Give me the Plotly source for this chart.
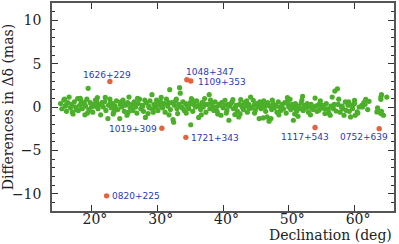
import plotly.graph_objects as go

# ---- data ----
green_dec = [15.3, 15.5, 15.8, 16.0, 16.2, 16.4, 16.6, 16.8, 17.0, 17.2, 17.4, 17.6, 17.9, 18.0, 18.2, 18.4,
             18.6, 18.8, 19.0, 19.1, 19.3, 19.5, 19.6, 19.8, 20.0, 20.2, 20.4, 20.6, 20.9, 21.0, 21.2, 21.4,
             21.6, 21.8, 22.0, 22.2, 22.5, 22.6, 22.8, 23.0, 23.2, 23.4, 23.6, 23.8, 24.0, 24.3, 24.4, 24.6,
             24.8, 25.0, 25.2, 25.4, 25.5, 25.7, 25.9, 26.1, 26.3, 26.5, 26.7, 26.9, 27.1, 27.3, 27.5, 27.7,
             27.9, 28.2, 28.3, 28.6, 28.7, 28.9, 29.2, 29.3, 29.5, 29.7, 29.9, 30.1, 30.3, 30.5, 30.8, 31.0,
             31.2, 31.4, 31.6, 31.9, 32.0, 32.2, 32.4, 32.5, 32.6, 32.8, 33.0, 33.1, 33.3, 33.4, 33.5, 33.7,
             33.9, 34.1, 34.3, 34.6, 34.8, 35.0, 35.1, 35.2, 35.4, 35.6, 35.8, 36.0, 36.3, 36.4, 36.6, 36.8,
             37.0, 37.2, 37.4, 37.6, 37.9, 38.0, 38.2, 38.4, 38.6, 38.8, 39.0, 39.2, 39.4, 39.7, 39.8, 40.0,
             40.3, 40.4, 40.6, 40.9, 41.0, 41.2, 41.5, 41.6, 41.8, 42.0, 42.2, 42.4, 42.5, 42.7, 42.9, 43.1,
             43.3, 43.5, 43.7, 43.9, 44.2, 44.3, 44.6, 44.7, 44.9, 45.1, 45.3, 45.5, 45.6, 45.8, 46.0, 46.1,
             46.3, 46.5, 46.7, 46.8, 47.0, 47.1, 47.3, 47.4, 47.6, 47.8, 48.0, 48.2, 48.4, 48.6, 48.8, 49.0,
             49.2, 49.4, 49.6, 49.8, 50.0, 50.2, 50.3, 50.5, 50.7, 50.8, 51.0, 51.2, 51.4, 51.5, 51.7, 51.9,
             52.1, 52.2, 52.4, 52.6, 52.8, 53.0, 53.2, 53.4, 53.7, 54.0, 54.1, 54.3, 54.6, 54.7, 55.0, 55.2,
             55.4, 55.5, 55.7, 56.0, 56.3, 56.4, 56.6, 56.8, 57.0, 57.2, 57.4, 57.5, 57.8, 58.0, 58.2, 58.4,
             58.6, 58.7, 59.0, 59.2, 59.4, 59.7, 59.8, 60.0, 60.0, 60.1, 60.4, 60.7, 61.1, 61.2, 61.6, 61.7,
             62.0, 62.2, 63.4, 63.6, 64.0, 64.0, 64.0, 64.1, 64.4, 64.9, 64.1, 63.5,
             16.1, 17.7, 18.9, 20.5, 21.5, 22.9, 23.5, 24.9, 26.0, 26.8, 27.8, 28.8, 30.0, 30.7, 31.7, 33.8,
             34.9, 36.1, 37.1, 38.5, 39.5, 40.8, 41.9, 43.0, 44.0, 45.4, 46.6, 47.7, 48.9, 49.9, 51.1, 52.3,
             53.5, 54.4, 55.8, 56.9, 58.1, 59.5,
             15.9, 17.1, 18.3, 19.4, 20.8, 22.1, 23.3, 24.5, 25.6, 27.0, 28.1, 29.4, 30.6, 31.8, 32.9, 34.4,
             35.5, 36.7, 38.1, 39.1, 40.5, 41.4, 42.6, 43.6, 44.8, 46.2, 47.5, 48.5, 49.7, 50.9, 52.0, 53.3,
             54.8, 56.1, 57.6, 59.1, 60.5, 61.4]
green_val = [0.4, -0.2, 0.8, 0.1, -0.5, 0.5, 1.15, -0.1, 0.3, -0.8, 0.6, 0.0, 0.97, -0.4, 0.2, 0.7,
             -0.2, 0.4, -0.9, 0.1, 0.9, 2.15, -0.3, 0.5, 0.0, -0.6, 0.3, 0.8, 1.08, -0.2, 0.2, -0.9,
             0.5, 0.0, 0.6, -0.4, -1.33, 0.2, 0.9, -0.1, 0.4, -0.6, 0.1, 0.7, -0.3, -1.33, 0.3, 0.0,
             0.8, -0.5, 0.2, -0.95, 0.5, 1.15, -0.1, 0.3, -0.4, 0.6, 0.0, -0.7, 0.4, 0.9, -0.2, 0.2,
             -0.5, -1.2, 0.5, -0.76, 0.1, 0.7, 1.42, -0.3, 0.3, 0.0, 0.8, -0.4, 0.2, 0.6, -0.1, 0.4,
             -0.6, 0.9, 0.1, 2.0, -0.3, 0.5, -1.45, -1.76, 0.2, 0.7, -0.2, -0.76, 0.3, 2.23, 1.6, 0.0,
             0.6, -0.4, 0.4, 0.1, -0.2, 0.5, -2.05, 0.97, -0.5, 0.3, 0.0, 0.7, -1.2, 0.2, -0.3, 0.5,
             0.0, 0.97, -0.6, 0.3, 1.42, -0.2, 0.4, 0.1, -0.4, 0.6, 0.0, -0.8, 0.3, -0.95, 0.5, -0.1,
             0.77, 0.2, -0.4, -1.53, 0.1, 0.4, 0.85, -0.2, -0.87, 0.2, -0.5, -1.15, 0.3, 0.85, 0.0, -0.3,
             0.5, 0.1, -0.6, 0.3, 1.15, -0.1, 0.77, 0.2, -0.4, 0.4, 0.0, -1.33, 0.6, -0.2, 0.3, -1.26,
             0.0, -0.5, -1.15, 0.5, -1.64, 0.1, -1.33, -0.3, 0.4, -0.1, 0.2, -0.6, 0.6, 0.0, -0.4, 0.3,
             -0.2, 0.5, -0.7, 1.08, 0.0, 0.89, -0.3, 0.3, -1.53, -0.1, 0.4, -0.5, -1.07, 0.1, -0.2, 0.5,
             1.23, -0.4, 0.2, -0.1, 0.4, -0.6, 0.0, 0.3, -0.3, 1.03, 0.1, -0.5, -0.38, 0.4, -0.1, 0.2,
             -0.18, -0.76, 0.39, -0.3, -0.95, 0.1, 1.15, -0.2, 1.84, -0.46, 2.1, 0.3, -0.6, 0.0, -0.18, -0.95,
             0.58, -0.38, 0.2, -0.5, -1.15, -0.18, 0.28, 0.77, 0.39, -0.95, -0.57, 0.0, 0.2, 0.0, 0.31, 0.89,
             -0.3, 0.66, -0.57, -0.38, 1.15, 0.89, -0.76, -0.5, -0.95, 1.15, 1.42, -0.1,
             0.2, -0.3, 0.5, 0.1, 0.3, 0.5, -0.2, 0.3, 0.2, 0.4, 0.1, -0.1, 0.3, 0.0, 0.5, -0.1,
             0.3, 0.1, 0.4, -0.1, 0.2, 0.3, 0.0, 0.2, -0.2, 0.1, 0.2, 0.0, -0.1, 0.3, -0.2, 0.1,
             -0.1, 0.2, -0.2, 0.3, 0.1, 0.2,
             0.9, -0.6, 1.0, -0.7, 0.6, 1.1, -0.8, 0.6, -0.6, 1.0, 0.8, -0.6, 1.1, -0.9, 0.9, -0.7,
             0.7, -0.9, 0.8, -0.5, -0.7, 0.6, -0.8, 0.7, -0.7, 0.7, 0.8, -0.9, 0.6, -0.8, 0.8, -0.9,
             0.7, -0.7, 0.9, 0.6, -0.7, 0.5]

red_dec = [22.8, 34.5, 35.1, 30.7, 34.35, 22.3, 54.0, 63.75]
red_val = [2.95, 3.15, 3.0, -2.45, -3.5, -10.25, -2.37, -2.5]
red_names = ["1626+229", "1048+347", "1109+353", "1019+309", "1721+343", "0820+225", "1117+543", "0752+639"]

x_ticks = [20, 30, 40, 50, 60]
x_ticktext = ["\u200220°", "\u200230°", "\u200240°", "\u200250°", "\u200260°"]
y_ticks = [-10, -5, 0, 5, 10]
y_ticktext = ["\u221210", "\u22125", "0", "5", "10"]

# label placement styles (anchor, pixel shifts)
label_style = [
    ("center", -3, 6.5),
    ("left", -3, 8),
    ("left", 5, -1),
    ("right", -3, -1),
    ("left", 3, -0.5),
    ("left", 3, 0),
    ("center", -10, -9.5),
    ("center", -15, -8.5),
]

fig = go.Figure()
fig.add_trace(go.Scatter(x=green_dec, y=green_val, mode="markers",
                         marker=dict(color="#4caf2a", size=5.2, line=dict(width=0)),
                         hoverinfo="skip"))
fig.add_trace(go.Scatter(x=red_dec, y=red_val, mode="markers",
                         marker=dict(color="#e2643f", size=5.4, line=dict(width=0)),
                         hoverinfo="skip"))

for name, xd, yd, (anc, xs, ys) in zip(red_names, red_dec, red_val, label_style):
    fig.add_annotation(x=xd, y=yd, text=name, showarrow=False, xanchor=anc, yanchor="middle",
                       xshift=xs, yshift=ys,
                       font=dict(family="DejaVu Sans", size=9, color="#2a3ab4"))

axis_common = dict(showline=True, linecolor="#555555", linewidth=1.5, mirror="ticks",
                   ticks="inside", tickcolor="#333333", tickwidth=1.2, ticklen=6,
                   showgrid=False, zeroline=False, automargin=False,
                   tickfont=dict(family="DejaVu Serif", size=14, color="#222222"))

fig.update_xaxes(range=[14, 66], tickmode="array", tickvals=x_ticks, ticktext=x_ticktext,
                 ticklabelstandoff=-6, **axis_common)
fig.update_yaxes(range=[-12, 12], tickmode="array", tickvals=y_ticks, ticktext=y_ticktext,
                 minor=dict(dtick=1, tick0=0, ticks="inside", ticklen=3.5, tickcolor="#333333", tickwidth=1),
                 ticklabelstandoff=6, **axis_common)

fig.add_annotation(text="Differences in \u0394\u03b4 (mas)", xref="paper", yref="paper",
                   x=-0.128, y=0.5, xanchor="center", yanchor="middle", textangle=-90, showarrow=False,
                   font=dict(family="DejaVu Serif", size=14, color="#222222"))
fig.add_annotation(text="Declination (deg)", xref="paper", yref="paper",
                   x=1.0, y=-0.117, xanchor="right", yanchor="middle", showarrow=False,
                   font=dict(family="DejaVu Serif", size=14, color="#222222"))

fig.update_layout(template="none", width=399, height=244, margin=dict(l=52, r=5, t=3, b=33),
                  paper_bgcolor="white", plot_bgcolor="white", showlegend=False)

fig.write_html("out.html", config={"displayModeBar": False},
               post_script="document.body.style.margin='0';document.body.style.overflow='hidden';")
